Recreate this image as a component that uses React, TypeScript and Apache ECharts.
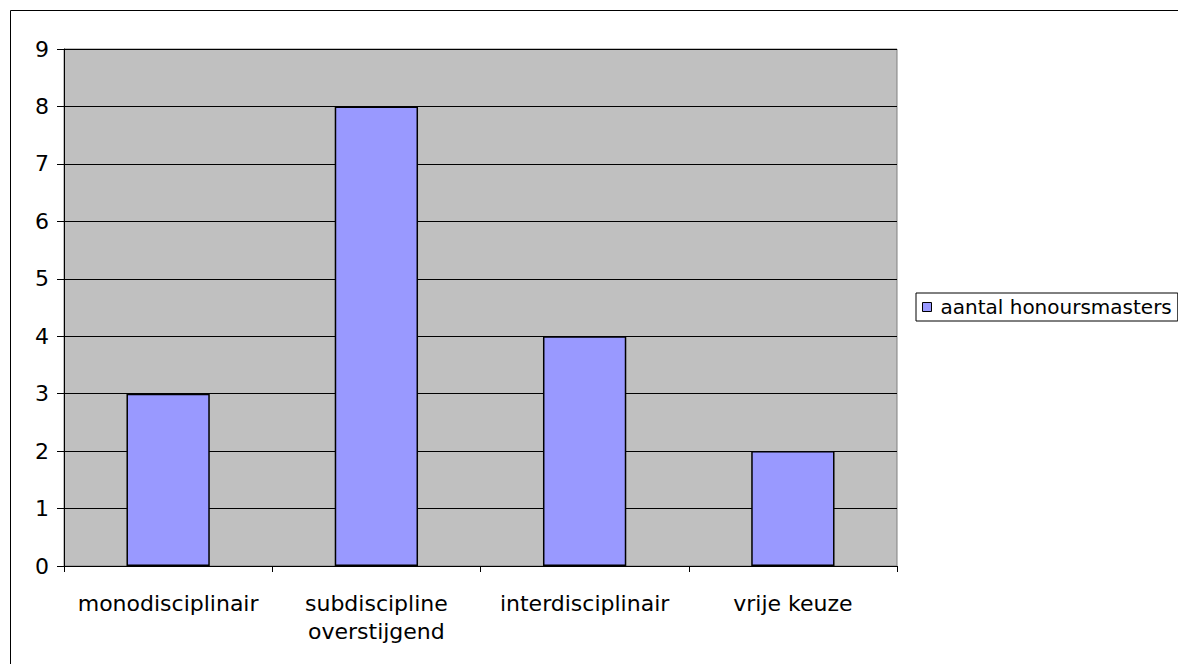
import React, { useEffect, useRef } from "react";
import * as echarts from "echarts";

const categories = ["monodisciplinair", "subdiscipline\noverstijgend", "interdisciplinair", "vrije keuze"];
const seriesName = "aantal honoursmasters";
const values = [3, 8, 4, 2];

export default function App() {
  const ref = useRef<HTMLDivElement>(null);
  useEffect(() => {
    if (!ref.current) return;
    const chart = echarts.init(ref.current, null, { renderer: "svg" });
    const font = "DejaVu Sans, Verdana, sans-serif";
    chart.setOption({
      animation: false,
      backgroundColor: "#ffffff",
      textStyle: { fontFamily: font },
      graphic: [
        {
          type: "rect",
          shape: { x: 10.5, y: 10.5, width: 1200, height: 700 },
          style: { fill: "none", stroke: "#000000", lineWidth: 1 },
          silent: true,
          z: -10,
        },
      ],
      legend: {
        left: 916,
        top: 293,
        orient: "vertical",
        data: [{ name: seriesName, icon: "rect" }],
        itemWidth: 9,
        itemHeight: 9,
        itemGap: 0,
        padding: [4, 6, 4, 6],
        borderColor: "#000000",
        borderWidth: 1,
        backgroundColor: "#ffffff",
        textStyle: { fontFamily: font, fontSize: 20, color: "#000000", padding: [0, 0, 0, 4] },
        itemStyle: { borderColor: "#000000", borderWidth: 1 },
      },
      grid: {
        left: 64,
        top: 49,
        width: 833,
        height: 517,
        show: true,
        backgroundColor: "#c0c0c0",
        borderColor: "#808080",
        borderWidth: 1,
        containLabel: false,
      },
      xAxis: {
        type: "category",
        data: categories,
        boundaryGap: true,
        axisLine: { lineStyle: { color: "#000000", width: 1 } },
        axisTick: { show: true, length: 6, lineStyle: { color: "#000000" } },
        axisLabel: {
          color: "#000000",
          fontFamily: font,
          fontSize: 22,
          margin: 23,
          lineHeight: 28,
          interval: 0,
        },
        splitLine: { show: false },
      },
      yAxis: {
        type: "value",
        min: 0,
        max: 9,
        interval: 1,
        axisLine: { show: true, lineStyle: { color: "#000000", width: 1 } },
        axisTick: { show: true, length: 7, lineStyle: { color: "#000000" } },
        axisLabel: { color: "#000000", fontFamily: font, fontSize: 22, margin: 15 },
        splitLine: { show: true, lineStyle: { color: "#000000", width: 1 } },
      },
      series: [
        {
          name: seriesName,
          type: "bar",
          data: values,
          barWidth: "40%",
          itemStyle: { color: "#9999ff", borderColor: "#000000", borderWidth: 1.5 },
        },
      ],
    });
    return () => chart.dispose();
  }, []);
  return (
    <div
      ref={ref}
      style={{ position: "fixed", left: 0, top: 0, width: 1178, height: 664 }}
    />
  );
}
